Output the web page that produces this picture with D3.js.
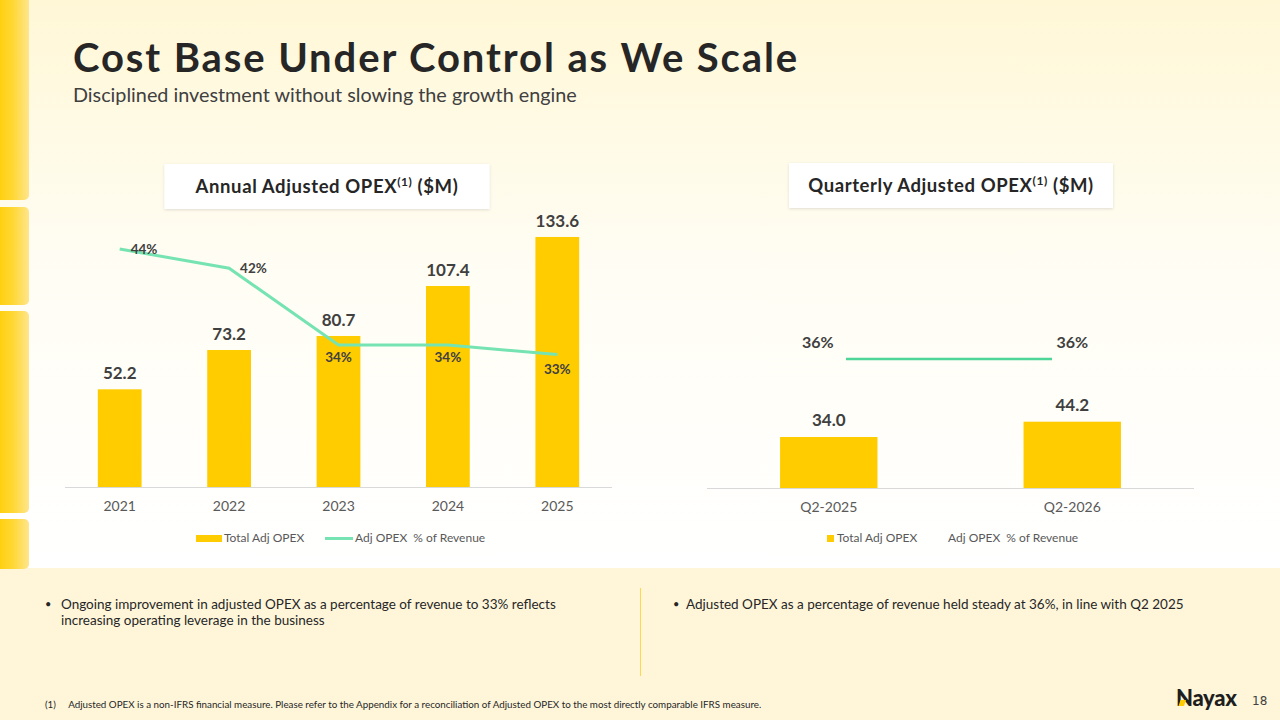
<!DOCTYPE html>
<html>
<head>
<meta charset="utf-8">
<script src="https://cdn.jsdelivr.net/npm/d3@7"></script>
<style>
  html, body { margin: 0; padding: 0; background: #fff; }
  svg { display: block; font-family: Lato, "Open Sans", sans-serif; }
</style>
</head>
<body>
<div id="slide"></div>
<script>
// annual chart
var years = ["2021", "2022", "2023", "2024", "2025"];
var annualOpex = [52.2, 73.2, 80.7, 107.4, 133.6];
var annualPct = [44, 42, 34, 34, 33];

// quarterly chart
var quarters = ["Q2-2025", "Q2-2026"];
var quarterlyOpex = [34.0, 44.2];
var quarterlyPct = [36, 36];

var legendLabels = ["Total Adj OPEX", "Adj OPEX  % of Revenue"];

var bullets = [
    ["Ongoing improvement in adjusted OPEX as a percentage of revenue to 33% reflects",
     "increasing operating leverage in the business"],
    ["Adjusted OPEX as a percentage of revenue held steady at 36%, in line with Q2 2025"]
];

var cs = {
    bar: "#FFCC00",
    line: "#76E3B2",
    line2: "#4ED698",
    text: "#262626",
    label: "#404040",
    axisText: "#595959",
    axis: "#D9D9D9"
};

var W = 1280, H = 720;

var svg = d3.select("#slide").append("svg")
    .attr("width", W)
    .attr("height", H)
    .attr("viewBox", "0 0 " + W + " " + H);

var defs = svg.append("defs");

var bg = defs.append("linearGradient").attr("id", "bgGrad")
    .attr("x1", 0).attr("y1", 0).attr("x2", 0).attr("y2", 1);
bg.append("stop").attr("offset", "0%").attr("stop-color", "#FFF7D6");
bg.append("stop").attr("offset", "45%").attr("stop-color", "#FFFDF3");
bg.append("stop").attr("offset", "100%").attr("stop-color", "#FFFFFF");

var tab = defs.append("linearGradient").attr("id", "tabGrad")
    .attr("x1", 0).attr("y1", 0).attr("x2", 1).attr("y2", 0);
tab.append("stop").attr("offset", "0%").attr("stop-color", "#FFCC00");
tab.append("stop").attr("offset", "55%").attr("stop-color", "#FFD836");
tab.append("stop").attr("offset", "100%").attr("stop-color", "#FFE58C");

var shadow = defs.append("filter").attr("id", "shadow")
    .attr("x", "-10%").attr("y", "-30%").attr("width", "120%").attr("height", "160%");
shadow.append("feDropShadow")
    .attr("dx", 0).attr("dy", 1).attr("stdDeviation", 1.5)
    .attr("flood-color", "#000").attr("flood-opacity", 0.12);

// background
svg.append("rect").attr("width", W).attr("height", 568).attr("fill", "url(#bgGrad)");
svg.append("rect").attr("y", 568).attr("width", W).attr("height", H - 568).attr("fill", "#FFF6DA");

// yellow tabs on the left edge
var tabs = [[-6, 200], [207, 305], [311, 513], [519, 569]];
svg.selectAll("rect.tab").data(tabs).enter().append("rect")
    .attr("class", "tab")
    .attr("x", -6)
    .attr("y", function(d){ return d[0]; })
    .attr("width", 35)
    .attr("height", function(d){ return d[1] - d[0]; })
    .attr("rx", 5)
    .attr("fill", "url(#tabGrad)");

// title
svg.append("text")
    .attr("x", 73).attr("y", 72)
    .attr("font-size", 40).attr("font-weight", 700)
    .attr("letter-spacing", 1.9)
    .attr("fill", cs.text)
    .text("Cost Base Under Control as We Scale");

svg.append("text")
    .attr("x", 73).attr("y", 102)
    .attr("font-size", 19.8)
    .attr("fill", cs.label)
    .text("Disciplined investment without slowing the growth engine");

function header(cx, y, w, str){
    svg.append("rect")
        .attr("x", cx - w / 2).attr("y", y)
        .attr("width", w).attr("height", 45)
        .attr("fill", "#fff")
        .attr("filter", "url(#shadow)");
    var t = svg.append("text")
        .attr("x", cx).attr("y", y + 29)
        .attr("text-anchor", "middle")
        .attr("font-size", 18.5).attr("font-weight", 700)
        .attr("letter-spacing", 0.6)
        .attr("fill", cs.text);
    t.append("tspan").text(str);
    t.append("tspan").attr("font-size", 12).attr("dy", -7).text("(1)");
    t.append("tspan").attr("dy", 7).text(" ($M)");
}

header(327, 164, 325, "Annual Adjusted OPEX");
header(951, 163, 324, "Quarterly Adjusted OPEX");

// ---------- annual chart ----------
var x1 = d3.scaleBand().domain(years).range([65, 612]).paddingInner(0.6).paddingOuter(0.3);
var y1 = d3.scaleLinear().domain([0, 140]).range([487, 225]);
var y1p = d3.scaleLinear().domain([30, 45]).range([383.4, 239.4]);

var g1 = svg.append("g");

g1.selectAll("rect.bar").data(annualOpex).enter().append("rect")
    .attr("class", "bar")
    .attr("x", function(d, i){ return x1(years[i]); })
    .attr("y", function(d){ return y1(d); })
    .attr("width", x1.bandwidth())
    .attr("height", function(d){ return y1(0) - y1(d); })
    .attr("fill", cs.bar);

var ax1 = g1.append("g")
    .attr("transform", "translate(0," + y1(0) + ")")
    .call(d3.axisBottom(x1).tickSize(0).tickPadding(14));
ax1.select(".domain").attr("stroke", cs.axis).attr("d", "M65,0.5H612");
ax1.selectAll("text").attr("font-size", 14).attr("fill", cs.axisText).attr("font-family", "Lato");

g1.selectAll("text.val").data(annualOpex).enter().append("text")
    .attr("class", "val")
    .attr("x", function(d, i){ return x1(years[i]) + x1.bandwidth() / 2; })
    .attr("y", function(d){ return y1(d) - 10; })
    .attr("text-anchor", "middle")
    .attr("font-size", 17).attr("font-weight", 700)
    .attr("fill", cs.label)
    .text(function(d){ return d.toFixed(1); });

var line1 = d3.line()
    .x(function(d, i){ return x1(years[i]) + x1.bandwidth() / 2; })
    .y(function(d){ return y1p(d); });

g1.append("path")
    .datum(annualPct)
    .attr("d", line1)
    .attr("fill", "none")
    .attr("stroke", cs.line)
    .attr("stroke-width", 3);

// first two labels sit to the right of the point, the rest below it
g1.selectAll("text.pct").data(annualPct).enter().append("text")
    .attr("class", "pct")
    .attr("x", function(d, i){
        var cx = x1(years[i]) + x1.bandwidth() / 2;
        return i < 2 ? cx + 11 : cx;
    })
    .attr("y", function(d, i){
        if(i < 2) return y1p(d) + 5;
        return y1p(d) + (i == annualPct.length - 1 ? 19 : 17);
    })
    .attr("text-anchor", function(d, i){ return i < 2 ? "start" : "middle"; })
    .attr("font-size", 13.5).attr("font-weight", 700)
    .attr("fill", cs.label)
    .text(function(d){ return d + "%"; });

// legend
var lg1 = g1.append("g");
lg1.append("rect").attr("x", 196).attr("y", 535).attr("width", 26).attr("height", 7).attr("fill", cs.bar);
lg1.append("text").attr("x", 224).attr("y", 542).attr("font-size", 12).attr("fill", cs.axisText).text(legendLabels[0]);
lg1.append("line").attr("x1", 325).attr("x2", 353).attr("y1", 538.5).attr("y2", 538.5)
    .attr("stroke", cs.line).attr("stroke-width", 3);
lg1.append("text").attr("x", 355).attr("y", 542).attr("font-size", 12).attr("fill", cs.axisText)
    .attr("xml:space", "preserve").text(legendLabels[1]);

// ---------- quarterly chart ----------
var x2 = d3.scaleBand().domain(quarters).range([707, 1194]).paddingInner(0.6).paddingOuter(0.3);
var x2p = d3.scalePoint().domain(quarters).range([846, 1052]);
var y2 = d3.scaleLinear().domain([0, 50]).range([488, 413]);
var y2p = d3.scaleLinear().domain([0, 40]).range([488, 344.7]);

var g2 = svg.append("g");

g2.selectAll("rect.bar").data(quarterlyOpex).enter().append("rect")
    .attr("class", "bar")
    .attr("x", function(d, i){ return x2(quarters[i]); })
    .attr("y", function(d){ return y2(d); })
    .attr("width", x2.bandwidth())
    .attr("height", function(d){ return y2(0) - y2(d); })
    .attr("fill", cs.bar);

var ax2 = g2.append("g")
    .attr("transform", "translate(0," + y2(0) + ")")
    .call(d3.axisBottom(x2).tickSize(0).tickPadding(14));
ax2.select(".domain").attr("stroke", cs.axis).attr("d", "M707,0.5H1194");
ax2.selectAll("text").attr("font-size", 14).attr("fill", cs.axisText).attr("font-family", "Lato");

g2.selectAll("text.val").data(quarterlyOpex).enter().append("text")
    .attr("class", "val")
    .attr("x", function(d, i){ return x2(quarters[i]) + x2.bandwidth() / 2; })
    .attr("y", function(d){ return y2(d) - 11; })
    .attr("text-anchor", "middle")
    .attr("font-size", 17).attr("font-weight", 700)
    .attr("fill", cs.label)
    .text(function(d){ return d.toFixed(1); });

g2.append("path")
    .datum(quarterlyPct)
    .attr("d", d3.line()
        .x(function(d, i){ return x2p(quarters[i]); })
        .y(function(d){ return y2p(d); }))
    .attr("fill", "none")
    .attr("stroke", cs.line2)
    .attr("stroke-width", 2.5);

g2.selectAll("text.pct").data(quarterlyPct).enter().append("text")
    .attr("class", "pct")
    .attr("x", function(d, i){ return x2(quarters[i]) + x2.bandwidth() / 2 - (i == 0 ? 11 : 0); })
    .attr("y", function(d){ return y2p(d) - 11; })
    .attr("text-anchor", "middle")
    .attr("font-size", 16).attr("font-weight", 700)
    .attr("fill", cs.label)
    .text(function(d){ return d + "%"; });

var lg2 = g2.append("g");
lg2.append("rect").attr("x", 827).attr("y", 535).attr("width", 7).attr("height", 7).attr("fill", cs.bar);
lg2.append("text").attr("x", 837).attr("y", 542).attr("font-size", 12).attr("fill", cs.axisText).text(legendLabels[0]);
lg2.append("text").attr("x", 948).attr("y", 542).attr("font-size", 12).attr("fill", cs.axisText)
    .attr("xml:space", "preserve").text(legendLabels[1]);

// ---------- commentary ----------
svg.append("line")
    .attr("x1", 640.5).attr("x2", 640.5).attr("y1", 588).attr("y2", 676)
    .attr("stroke", "#FFD64D").attr("stroke-width", 1);

var bx = [45, 673];
bullets.forEach(function(lines, k){
    svg.append("text")
        .attr("x", bx[k]).attr("y", 608)
        .attr("font-size", 11).attr("fill", cs.text)
        .text("\u2022");
    lines.forEach(function(s, j){
        svg.append("text")
            .attr("x", bx[k] + (k == 0 ? 16 : 13)).attr("y", 608.5 + j * 16)
            .attr("font-size", 13.5).attr("fill", cs.text)
            .text(s);
    });
});

svg.append("text")
    .attr("x", 45).attr("y", 708)
    .attr("font-size", 9.8).attr("fill", cs.text)
    .attr("xml:space", "preserve")
    .text("(1)     Adjusted OPEX is a non-IFRS financial measure. Please refer to the Appendix for a reconciliation of Adjusted OPEX to the most directly comparable IFRS measure.");

// logo + page number
svg.append("text")
    .attr("x", 1176).attr("y", 706)
    .attr("font-size", 22).attr("font-weight", 900)
    .attr("fill", "#1E1E1E")
    .attr("letter-spacing", -0.3)
    .text("Nayax");
svg.append("path")
    .attr("d", "M1180.5,700 L1186,700 L1184,706 L1178.5,706 Z")
    .attr("fill", cs.bar);
svg.append("text")
    .attr("x", 1252).attr("y", 705)
    .attr("font-size", 12).attr("fill", cs.label)
    .attr("font-family", "DejaVu Sans")
    .text("18");
</script>
</body>
</html>
